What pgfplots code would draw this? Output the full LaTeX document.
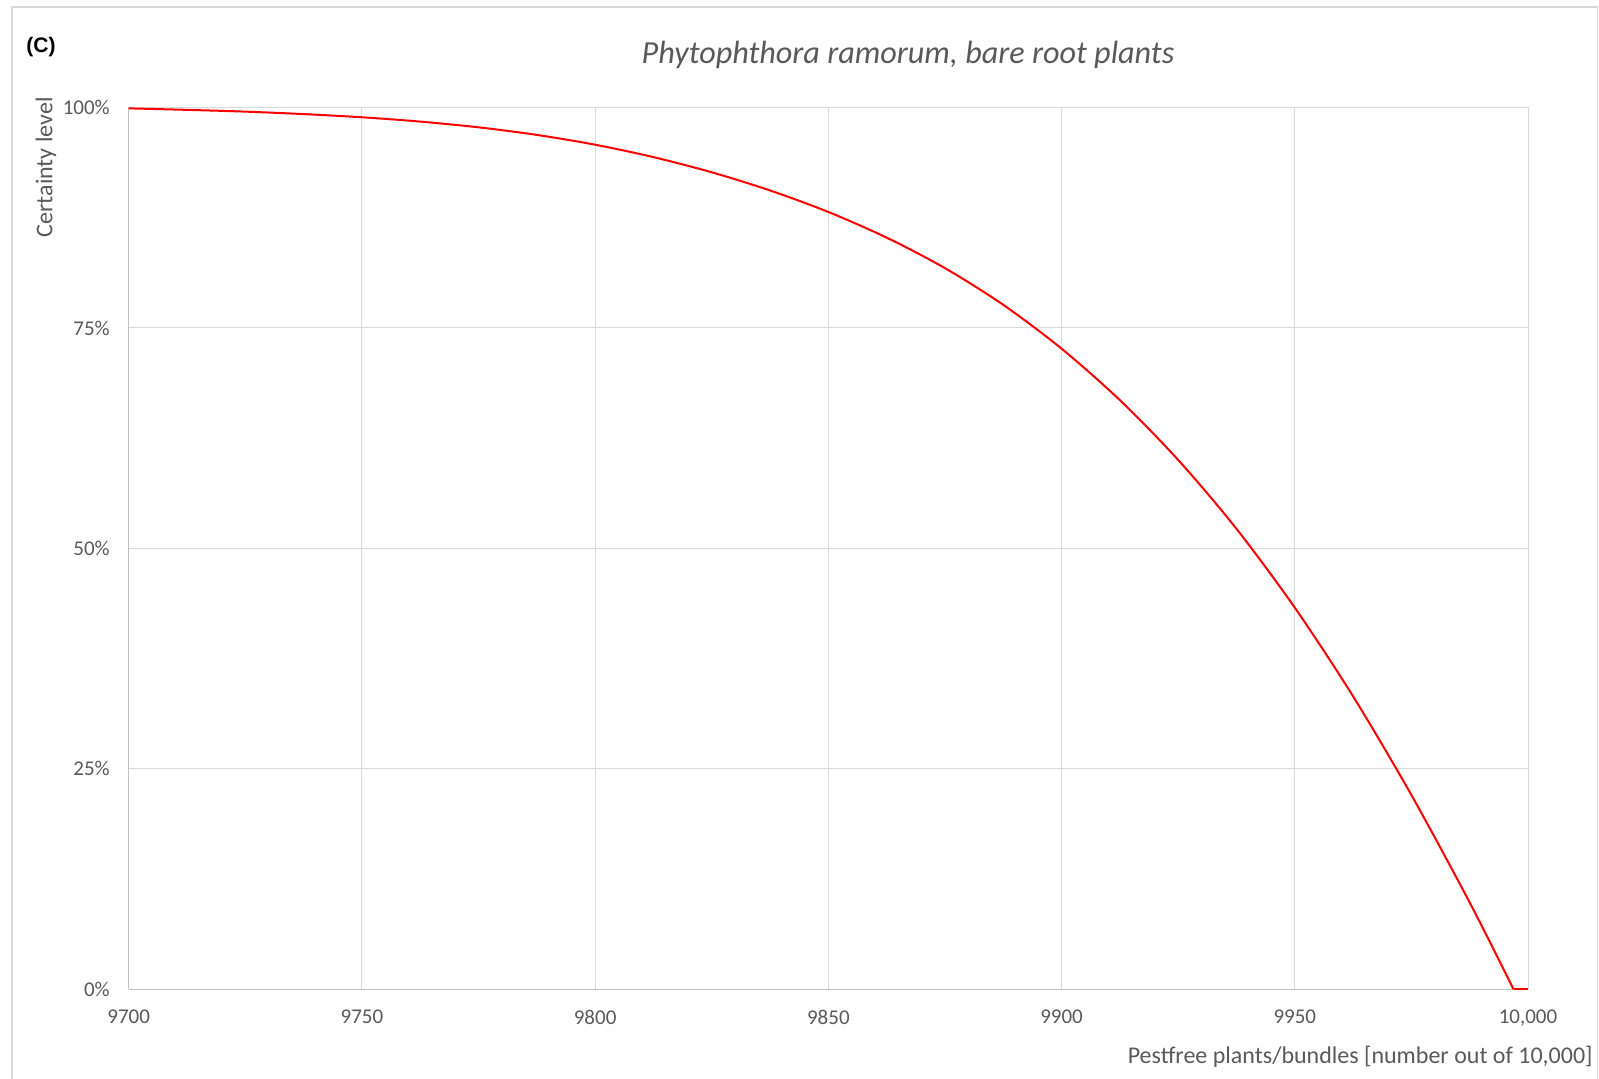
\documentclass[border=0pt]{standalone}
\usepackage{fontspec}
\setmainfont{Carlito}
\newfontfamily\arialfont{Liberation Sans}
\usepackage{pgfplots}
\pgfplotsset{compat=1.18}

\definecolor{txtgray}{HTML}{595959}
\definecolor{gridgray}{HTML}{D9D9D9}
\definecolor{axisgray}{HTML}{BFBFBF}
\definecolor{framegray}{HTML}{D9D9D9}

\begin{document}
\begin{tikzpicture}
% page = 1599 x 1079 px, 1 px = 0.5pt
\useasboundingbox (0,0) rectangle (799.5pt,539.5pt);
\draw[framegray, line width=0.75pt] (6pt,-5pt) -- (6pt,536pt) -- (798.7pt,536pt) -- (798.7pt,-5pt);

\begin{axis}[
  at={(64.35pt,44.85pt)}, anchor=south west,
  scale only axis,
  width=699.65pt, height=440.9pt,
  xmin=9700, xmax=10000,
  ymin=0, ymax=100,
  scaled x ticks=false,
  xtick={9700,9750,9800,9850,9900,9950,10000},
  xticklabels={9700,9750,9800,9850,9900,9950,{10,000}},
  ytick={0,25,50,75,100},
  yticklabels={0\%,25\%,50\%,75\%,100\%},
  major tick length=0pt,
  grid=major,
  major grid style={color=gridgray, line width=0.5pt},
  axis x line*=bottom, axis y line*=left,
  axis line style={-, draw=axisgray, line width=0.6pt},
  /pgf/number format/assume math mode=true,
  tick label style={font=\fontsize{10.5}{12}\selectfont, text=txtgray},
  xticklabel style={anchor=north, inner sep=0pt, yshift=-10.2pt},
  yticklabel style={anchor=east, inner sep=0pt, xshift=-9.3pt},
  clip=false,
]
% certainty level, in percent
\addplot[color=red, line width=1pt, smooth] coordinates {
 (9700, 99.9)
 (9712.5, 99.73)
 (9725, 99.53)
 (9737.5, 99.25)
 (9750, 98.89)
 (9762.5, 98.40)
 (9775, 97.75)
 (9787.5, 96.89)
 (9800, 95.78)
 (9812.5, 94.37)
 (9825, 92.65)
 (9837.5, 90.59)
 (9850, 88.15)
 (9862.5, 85.24)
 (9875, 81.78)
 (9887.5, 77.62)
 (9900, 72.65)
 (9912.5, 66.81)
 (9925, 60.03)
 (9937.5, 52.22)
 (9950, 43.28)
 (9962.5, 33.22)
 (9975, 22.03)
 (9987.5, 9.84)
 (9996.9, 0)
};
\addplot[color=red, line width=1pt] coordinates {
 (9996.9, 0)
 (10000, 0)
};
\end{axis}

\node[font=\arialfont\bfseries\fontsize{10.5}{12}\selectfont, text=black] at (20.5pt,516pt) {(C)};
\node[font=\itshape\fontsize{16.1}{19}\selectfont, text=txtgray, anchor=base] at (454pt,507.5pt) {Phytophthora ramorum, bare root plants};
\node[font=\fontsize{12}{14}\selectfont, text=txtgray, rotate=90, anchor=east, inner sep=0pt] at (23pt,491pt) {Certainty level};
\node[font=\fontsize{12}{14}\selectfont, text=txtgray, anchor=base east, inner sep=0pt] at (796.5pt,7.85pt) {Pestfree plants/bundles [number out of 10,000]};
\end{tikzpicture}
\end{document}
